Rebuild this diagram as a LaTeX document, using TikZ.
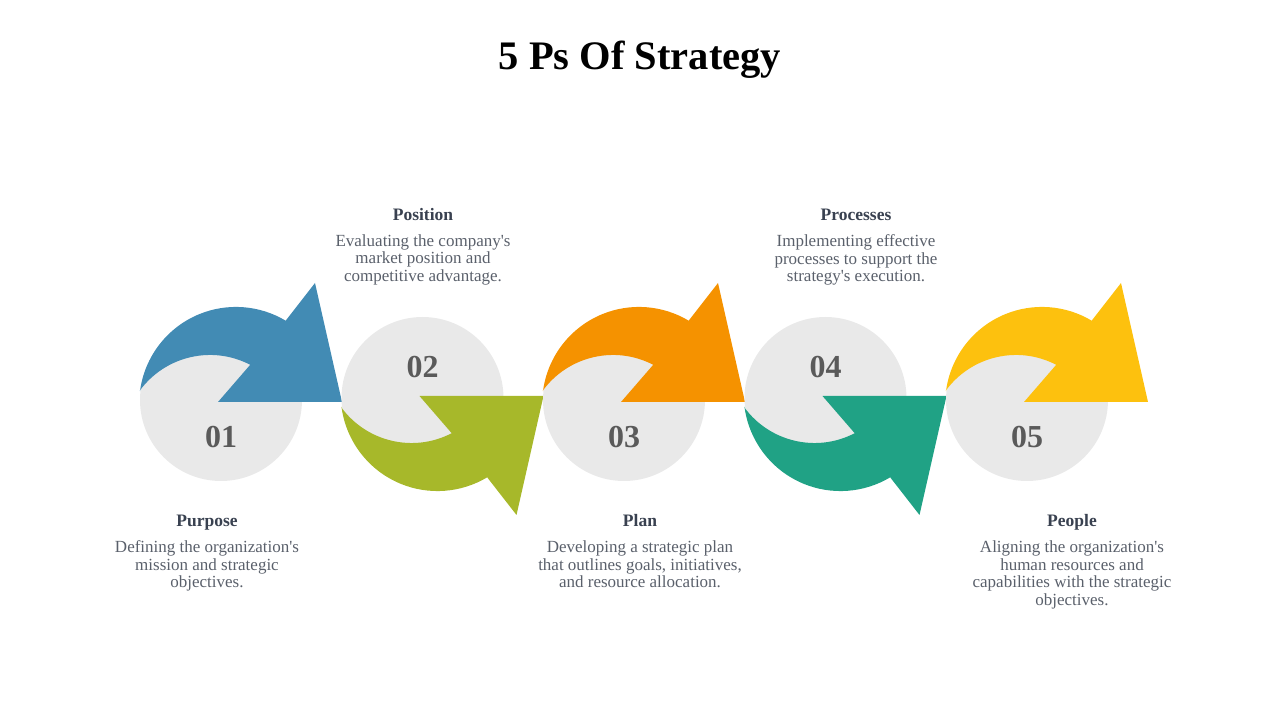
\documentclass[tikz,border=0pt]{standalone}
\usepackage{fontspec}
\setmainfont{Liberation Serif}
\usepackage{tikz}
\usetikzlibrary{positioning}
\usepackage{xcolor}
\definecolor{pblue}{HTML}{428BB4}
\definecolor{pgreen}{HTML}{A7B82A}
\definecolor{porange}{HTML}{F59200}
\definecolor{pteal}{HTML}{20A285}
\definecolor{pyellow}{HTML}{FDC10E}
\definecolor{circc}{HTML}{E9E9E9}
\definecolor{numc}{HTML}{5A5A5A}
\definecolor{headc}{HTML}{394150}
\definecolor{bodyc}{HTML}{5A606B}

\begin{document}
\begin{tikzpicture}[x=1pt,y=1pt,
  head/.style={font=\bfseries\fontsize{17.5}{20}\selectfont,text=headc,anchor=base,inner sep=0pt},
  body/.style={font=\fontsize{17}{17.5}\selectfont,text=bodyc,align=center,anchor=north,inner sep=0pt},
  num/.style={font=\bfseries\fontsize{32}{34}\selectfont,text=numc,inner sep=0pt}]
\useasboundingbox (0,0) rectangle (1280,720);
\node[font=\bfseries\fontsize{40.5}{42}\selectfont,anchor=base] (title) at (640,650) {5 Ps Of Strategy};
% grey discs with the curved arrows, up and down in turn
\foreach \cx/\dir/\col in {221/1/pblue,422.5/-1/pgreen,624/1/porange,825.5/-1/pteal,1027/1/pyellow}{
  \begin{scope}[shift={(\cx,321)},yscale=\dir]
    \fill[circc] (0,-1) circle (81);
    \fill[\col] (-81,7.9) arc[start angle=172.5,end angle=59.1,radius=96.8]
      -- (94,116) -- (121,-3) -- (-3,-3) -- (29.2,34.2)
      arc[start angle=62.5,end angle=143.9,radius=87] -- cycle;
  \end{scope}
}
\foreach \cx/\ny/\n in {221/283.3/01,422.5/353/02,624/283.3/03,825.5/353/04,1027/283.3/05}
  \node[num] (num\n) at (\cx,\ny) {\n};
% texts
\node[head] (purpose) at (207,193.3) {Purpose};
\node[body] (purposetxt) at (207,179.3) {Defining the organization\textquotesingle s\\mission and strategic\\objectives.};
\node[head] (position) at (423,499.3) {Position};
\node[body] (positiontxt) at (423,485.5) {Evaluating the company\textquotesingle s\\market position and\\competitive advantage.};
\node[head] (plan) at (640,193.3) {Plan};
\node[body] (plantxt) at (640,179.3) {Developing a strategic plan\\that outlines goals, initiatives,\\and resource allocation.};
\node[head] (processes) at (856,499.3) {Processes};
\node[body] (processestxt) at (856,485.5) {Implementing effective\\processes to support the\\strategy\textquotesingle s execution.};
\node[head] (people) at (1072,193.3) {People};
\node[body] (peopletxt) at (1072,179.3) {Aligning the organization\textquotesingle s\\human resources and\\capabilities with the strategic\\objectives.};
\end{tikzpicture}
\end{document}
